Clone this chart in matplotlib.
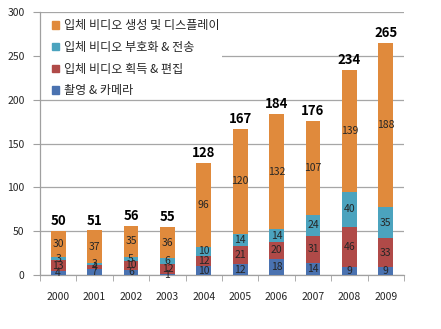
import matplotlib
matplotlib.use("Agg")
import matplotlib.pyplot as plt
import numpy as np
from matplotlib.patches import Patch, Rectangle

plt.rcParams['font.family'] = ['Noto Sans CJK KR', 'DejaVu Sans']

years = ['2000', '2001', '2002', '2003', '2004', '2005', '2006', '2007', '2008', '2009']
camera = [4, 7, 6, 1, 10, 12, 18, 14, 9, 9]
acquisition = [13, 4, 10, 12, 12, 21, 20, 31, 46, 33]
coding = [3, 3, 5, 6, 10, 14, 14, 24, 40, 35]
display = [30, 37, 35, 36, 96, 120, 132, 107, 139, 188]
totals = [50, 51, 56, 55, 128, 167, 184, 176, 234, 265]
series_names = ['촬영 & 카메라', '입체 비디오 획득 & 편집', '입체 비디오 부호화 & 전송', '입체 비디오 생성 및 디스플레이']
y_ticks = [0, 50, 100, 150, 200, 250, 300]

colors = ['#4A72B0', '#B04A48', '#4BA3BE', '#E08A3C']

fig = plt.figure(figsize=(4.41, 3.29), dpi=100)
ax = fig.add_axes([40/441, 1-275/329, 364/441, 263/329])

x = np.arange(len(years))
bottom = np.zeros(len(years))
containers = []
for vals, c, name in zip([camera, acquisition, coding, display], colors, series_names):
    bc = ax.bar(x, vals, width=0.41, bottom=bottom, color=c, label=name, zorder=3)
    containers.append(bc)
    bottom += np.array(vals)

for bc, vals in zip(containers, [camera, acquisition, coding, display]):
    ax.bar_label(bc, labels=[str(v) for v in vals], label_type='center',
                 fontsize=7.5, color='#262626', zorder=4)

for xi, t in zip(x, totals):
    ax.annotate(str(t), (xi, t), xytext=(0, 2), textcoords='offset points',
                ha='center', va='bottom', fontsize=9.5, fontweight='bold', color='black')

ax.set_xlim(-0.5, len(years) - 0.5)
ax.set_ylim(0, 300)
ax.set_yticks(y_ticks)
ax.set_yticklabels([str(v) for v in y_ticks], fontsize=7.5, color='#262626')
ax.set_xticks(x)
ax.set_xticklabels(years, fontsize=7.5, color='#262626')
ax.tick_params(axis='x', which='major', length=0, pad=12)
ax.set_xticks(np.arange(-0.5, len(years)), minor=True)
ax.tick_params(axis='x', which='minor', length=4, color='#A0A0A0', direction='out')
ax.tick_params(axis='y', length=5, color='#A0A0A0', direction='out', pad=6)

ax.grid(axis='y', color='#A6A6A6', linewidth=0.9, zorder=0)
ax.set_axisbelow(True)
for s in ['top', 'right']:
    ax.spines[s].set_visible(False)
for s in ['left', 'bottom']:
    ax.spines[s].set_color('#A0A0A0')
    ax.spines[s].set_linewidth(0.9)

# white legend backdrop hiding the 250 gridline behind the legend
ax.add_patch(Rectangle((0.003, 240/300), 0.497, 20/300, transform=ax.transAxes,
                       facecolor='white', edgecolor='none', zorder=1))

handles = [Patch(color=c) for c in colors][::-1]
leg = ax.legend(handles, series_names[::-1], loc='upper left',
                bbox_to_anchor=(0.01, 1.005), frameon=False,
                fontsize=8.7, handlelength=0.55, handleheight=0.55,
                handletextpad=0.45, labelspacing=0.72, borderpad=0.2)
leg.set_zorder(5)
for t in leg.get_texts():
    t.set_color('#262626')

fig.savefig('out.png', dpi=100)
